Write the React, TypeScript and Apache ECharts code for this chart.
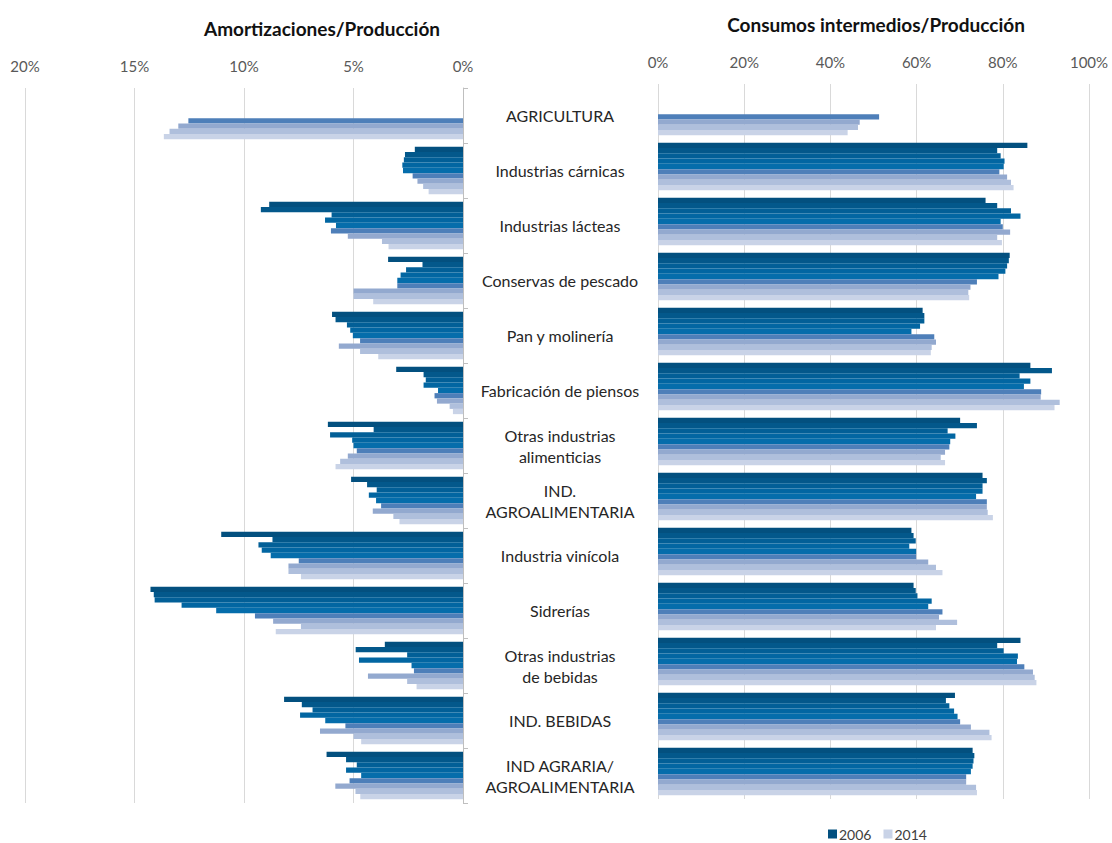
import React, { useEffect, useRef } from "react";
import * as echarts from "echarts";

const FONT = "Lato, 'Liberation Sans', sans-serif";

const categories = [
  "AGRICULTURA",
  "Industrias cárnicas",
  "Industrias lácteas",
  "Conservas de pescado",
  "Pan y molinería",
  "Fabricación de piensos",
  "Otras industrias\nalimenticias",
  "IND.\nAGROALIMENTARIA",
  "Industria vinícola",
  "Sidrerías",
  "Otras industrias\nde bebidas",
  "IND. BEBIDAS",
  "IND AGRARIA/\nAGROALIMENTARIA",
];

const years = ["2006", "2007", "2008", "2009", "2010", "2011", "2012", "2013", "2014"];

const yearColors = [
  "#03507f",
  "#03588b",
  "#025f97",
  "#0266a2",
  "#056dab",
  "#4e7fb9",
  "#93a9cf",
  "#afbfdc",
  "#c9d3e7",
];

// Amortizaciones / Producción (%), one array per year, in category order
const amortizaciones: (number | null)[][] = [
  [null, 2.2, 8.85, 3.42, 5.98, 3.05, 6.17, 5.11, 11.04, 14.27, 3.57, 8.17, 6.23], // 2006
  [null, 2.65, 9.23, 1.85, 5.82, 1.8, 4.08, 4.38, 8.7, 14.12, 4.9, 7.36, 5.34], // 2007
  [null, 2.7, 6.0, 2.6, 5.3, 1.7, 6.07, 3.94, 9.34, 14.08, 2.55, 6.87, 4.85], // 2008
  [null, 2.77, 6.3, 2.85, 5.15, 1.8, 5.06, 4.3, 9.19, 12.85, 4.75, 7.44, 5.34], // 2009
  [null, 2.74, 5.8, 3.0, 5.03, 1.14, 5.0, 3.97, 8.78, 11.27, 2.35, 6.29, 4.65], // 2010
  [12.54, 2.3, 6.03, 3.0, 4.7, 1.3, 4.85, 3.74, 7.5, 9.5, 2.24, 5.37, 5.18], // 2011
  [13.0, 2.08, 5.26, 5.0, 5.67, 1.19, 5.26, 4.12, 7.97, 8.67, 4.34, 6.53, 5.83], // 2012
  [13.4, 1.82, 3.7, 5.0, 4.7, 0.61, 5.61, 3.18, 7.97, 7.4, 2.55, 5.0, 4.91], // 2013
  [13.66, 1.57, 3.4, 4.1, 3.87, 0.46, 5.82, 2.9, 7.4, 8.55, 2.12, 4.65, 4.69], // 2014
];

// Consumos intermedios / Producción (%), one array per year, in category order
const consumos: (number | null)[][] = [
  [null, 85.7, 76.0, 81.6, 61.4, 86.4, 70.1, 75.3, 58.8, 59.3, 84.1, 68.9, 73.0], // 2006
  [null, 78.7, 78.7, 81.4, 61.8, 91.4, 74.0, 76.3, 59.3, 59.8, 78.7, 66.8, 73.4], // 2007
  [null, 79.5, 81.9, 81.0, 61.8, 83.9, 67.2, 75.3, 59.8, 60.2, 80.2, 67.6, 73.2], // 2008
  [null, 80.4, 84.1, 80.6, 60.8, 86.4, 69.0, 75.3, 58.3, 63.5, 83.5, 68.7, 73.0], // 2009
  [null, 80.2, 79.5, 79.0, 58.8, 84.9, 67.8, 73.8, 59.9, 62.7, 83.3, 69.5, 72.6], // 2010
  [51.3, 79.2, 80.0, 74.0, 64.1, 88.9, 67.6, 76.3, 59.9, 66.0, 85.0, 70.1, 71.5], // 2011
  [46.8, 81.0, 81.7, 72.5, 64.5, 88.8, 66.6, 76.3, 62.7, 65.2, 87.0, 72.6, 71.5], // 2012
  [46.4, 81.9, 78.7, 72.0, 63.5, 93.2, 65.6, 76.5, 64.5, 69.4, 87.4, 76.9, 73.8], // 2013
  [44.0, 82.5, 79.8, 72.2, 63.3, 92.0, 66.6, 77.7, 66.0, 64.5, 87.8, 77.4, 74.0], // 2014
];

const amortTicks = { min: 0, max: 20, interval: 5 };
const consumoTicks = { min: 0, max: 100, interval: 20 };

export default function App() {
  const ref = useRef<HTMLDivElement>(null);

  useEffect(() => {
    if (!ref.current) return;
    const chart = echarts.init(ref.current, undefined, { renderer: "svg" });

    const gridLine = { show: true, lineStyle: { color: "#d9d9d9", width: 1 } };
    const tickLabel = {
      formatter: "{value}%",
      fontSize: 15,
      color: "#595959",
      fontFamily: FONT,
    };

    const series: any[] = [];
    years.forEach((y, i) => {
      const common = {
        name: y,
        type: "bar",
        barGap: "0%",
        barCategoryGap: "14%",
        itemStyle: { color: yearColors[i] },
        emphasis: { disabled: true },
      };
      series.push({ ...common, xAxisIndex: 0, yAxisIndex: 0, data: amortizaciones[i] });
      series.push({ ...common, xAxisIndex: 1, yAxisIndex: 1, data: consumos[i] });
    });

    chart.setOption({
      animation: false,
      backgroundColor: "#ffffff",
      textStyle: { fontFamily: FONT },
      grid: [
        { left: 25, right: 649, top: 88, bottom: 40 },
        { left: 658, right: 23, top: 84, bottom: 44 },
      ],
      xAxis: [
        {
          type: "value",
          gridIndex: 0,
          position: "top",
          inverse: true,
          ...amortTicks,
          axisLine: { show: false },
          axisTick: { show: false },
          splitLine: gridLine,
          axisLabel: { ...tickLabel, margin: 15 },
        },
        {
          type: "value",
          gridIndex: 1,
          position: "top",
          ...consumoTicks,
          axisLine: { show: false },
          axisTick: { show: false },
          splitLine: gridLine,
          axisLabel: { ...tickLabel, margin: 15 },
        },
      ],
      yAxis: [
        {
          type: "category",
          gridIndex: 0,
          data: categories,
          inverse: true,
          position: "right",
          axisLine: { show: true, lineStyle: { color: "#bfbfbf", width: 1 } },
          axisTick: { show: true, length: 5, lineStyle: { color: "#bfbfbf" } },
          axisLabel: {
            margin: 97,
            align: "center",
            fontSize: 16,
            lineHeight: 21,
            color: "#262626",
            fontFamily: FONT,
          },
        },
        {
          type: "category",
          gridIndex: 1,
          data: categories,
          inverse: true,
          axisLine: { show: false },
          axisTick: { show: false },
          axisLabel: { show: false },
        },
      ],
      legend: {
        data: ["2006", "2014"],
        left: 828,
        top: 827,
        padding: 0,
        icon: "rect",
        itemWidth: 9,
        itemHeight: 9,
        itemGap: 12,
        selectedMode: false,
        textStyle: { fontSize: 14, color: "#404040", fontFamily: FONT, padding: [0, 0, 0, -3] },
      },
      graphic: [
        {
          type: "text",
          x: 322,
          y: 28,
          style: {
            text: "Amortizaciones/Producción",
            font: `bold 19px ${FONT}`,
            fill: "#111111",
            textAlign: "center",
            textVerticalAlign: "middle",
          },
        },
        {
          type: "text",
          x: 876,
          y: 24,
          style: {
            text: "Consumos intermedios/Producción",
            font: `bold 19px ${FONT}`,
            fill: "#111111",
            textAlign: "center",
            textVerticalAlign: "middle",
          },
        },
      ],
      series,
    });

    return () => chart.dispose();
  }, []);

  return (
    <div
      ref={ref}
      style={{ position: "fixed", left: 0, top: 0, width: 1112, height: 843, background: "#fff" }}
    />
  );
}
